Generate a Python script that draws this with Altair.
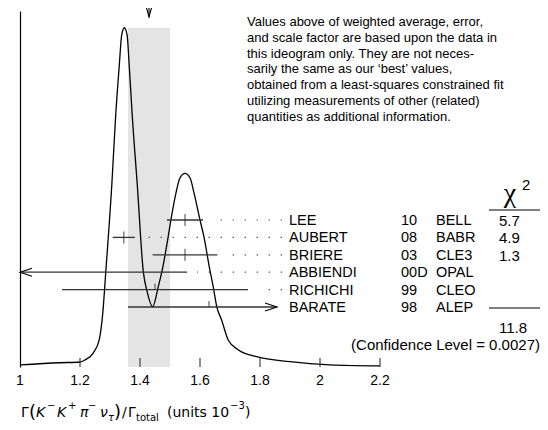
import altair as alt
import pandas as pd

# ---------------- data ----------------
names = ["LEE", "AUBERT", "BRIERE", "ABBIENDI", "RICHICHI", "BARATE"]
years = ["10", "08", "03", "00D", "99", "98"]
exps = ["BELL", "BABR", "CLE3", "OPAL", "CLEO", "ALEP"]
values = [1.55, 1.346, 1.55, 0.87, 1.45, 1.63]
errors = [0.06, 0.037, 0.108, 0.687, 0.31, 0.27]
chi2 = ["5.7", "4.9", "1.3", "", "", ""]
tick_kind = ["full", "full", "full", "none", "half", "half"]

average = 1.43
avg_err = 0.07
chi2_total = "11.8"
conf_text = "(Confidence Level = 0.0027)"

# ideogram curve
curve_x = [1.000, 1.133, 1.200, 1.217, 1.244, 1.264, 1.276, 1.286, 1.306, 1.319,
           1.331, 1.339, 1.348, 1.357, 1.364, 1.374, 1.391, 1.411, 1.424, 1.442,
           1.461, 1.474, 1.494, 1.503, 1.520, 1.533, 1.550, 1.567, 1.580, 1.600,
           1.613, 1.633, 1.644, 1.656, 1.672, 1.694, 1.728, 1.789, 1.900, 2.033, 2.200]
curve_y = [0.006, 0.012, 0.014, 0.020, 0.039, 0.076, 0.152, 0.268, 0.511, 0.708,
           0.848, 0.933, 0.953, 0.933, 0.848, 0.708, 0.511, 0.268, 0.211, 0.169,
           0.226, 0.272, 0.366, 0.413, 0.489, 0.531, 0.544, 0.531, 0.489, 0.413,
           0.366, 0.272, 0.226, 0.169, 0.132, 0.076, 0.048, 0.029, 0.015, 0.006, 0.003]

tick_values = [1.0, 1.2, 1.4, 1.6, 1.8, 2.0, 2.2]
tick_labels = ["1", "1.2", "1.4", "1.6", "1.8", "2", "2.2"]

note_lines = [
    "Values above of weighted average, error,",
    "and scale factor are based upon the data in",
    "this ideogram only.  They are not neces-",
    "sarily the same as our \u2018best\u2019 values,",
    "obtained from a least-squares constrained fit",
    "utilizing measurements of other (related)",
    "quantities as additional information.",
]

# ---------------- layout ----------------
X0, X1 = 1.0, 2.2
W, H = 360, 356
PPU = W / (X1 - X0)
ARROW_TIP = X0 + 257 / PPU
DOTS_END = X0 + 262 / PPU
DOT_GAP = 10 / PPU

SANS = "Liberation Sans"
MATH = "DejaVu Sans"

xs = alt.Scale(domain=[X0, X1], nice=False, zero=False)
ys = alt.Scale(domain=[0, 1], nice=False, zero=False)
rs = alt.Scale(type="point", domain=names, range=[209, 296], padding=0)

rows = pd.DataFrame({"name": names, "year": years, "exp": exps,
                     "v": values, "e": errors, "chi2": chi2, "kind": tick_kind})
rows["lo"] = rows.v - rows.e
rows["hi"] = rows.v + rows.e
rows["lo_c"] = rows.lo.clip(lower=X0)
rows["hi_c"] = rows.hi.clip(upper=ARROW_TIP)
rows["left_arrow"] = rows.lo < X0
rows["right_arrow"] = rows.hi > ARROW_TIP
rows["dot_start"] = rows.hi_c + DOT_GAP
rows["dot_end"] = DOTS_END

curve = pd.DataFrame({"x": curve_x, "y": curve_y})
band = pd.DataFrame({"lo": [average - avg_err], "hi": [average + avg_err],
                     "y0": [0.0], "y1": [max(curve_y)]})
avg_df = pd.DataFrame({"x": [average]})
ticks = pd.DataFrame({"x": tick_values, "label": tick_labels})
one = pd.DataFrame({"a": [0]})

Y = lambda f: alt.Y(f, scale=rs, axis=None)

band_layer = alt.Chart(band).mark_rect(color="#e4e4e4").encode(
    x=alt.X("lo:Q", scale=xs, axis=None), x2="hi:Q",
    y=alt.Y("y0:Q", scale=ys, axis=None), y2="y1:Q")

curve_layer = alt.Chart(curve).mark_line(
    color="black", strokeWidth=1.3, interpolate="monotone").encode(
    x=alt.X("x:Q", scale=xs,
            axis=alt.Axis(domain=True, ticks=False, labels=False, grid=False,
                          title=None, domainColor="black", domainWidth=1.2)),
    y=alt.Y("y:Q", scale=ys,
            axis=alt.Axis(domain=True, ticks=False, labels=False, grid=False,
                          title=None, domainColor="black", domainWidth=1.2)))

inner_ticks = alt.Chart(ticks).transform_filter("datum.x > 1.01").mark_rule(
    color="#333", strokeWidth=1.1).encode(
    x=alt.X("x:Q", scale=xs, axis=None), y=alt.value(H), y2=alt.value(H - 9))

tick_text = alt.Chart(ticks).mark_text(
    font=SANS, fontSize=14, baseline="middle", color="black").encode(
    x=alt.X("x:Q", scale=xs, axis=None), y=alt.value(370), text="label:N")

bars = alt.Chart(rows).mark_rule(color="#333", strokeWidth=1.3).encode(
    x=alt.X("lo_c:Q", scale=xs, axis=None), x2="hi_c:Q", y=Y("name:N"))

dots = alt.Chart(rows).transform_filter("!datum.right_arrow").mark_rule(
    color="#555", strokeWidth=1.2, strokeDash=[1.4, 10.6], strokeCap="butt").encode(
    x=alt.X("dot_end:Q", scale=xs, axis=None), x2="dot_start:Q", y=Y("name:N"))

full_ticks = alt.Chart(rows).transform_filter("datum.kind == 'full'").mark_tick(
    color="#333", thickness=1.3, size=12, orient="vertical").encode(
    x=alt.X("v:Q", scale=xs, axis=None), y=Y("name:N"))

half_ticks = alt.Chart(rows).transform_filter("datum.kind == 'half'").mark_tick(
    color="#333", thickness=1.3, size=6, yOffset=-3, orient="vertical").encode(
    x=alt.X("v:Q", scale=xs, axis=None), y=Y("name:N"))

left_heads = alt.Chart(rows).transform_filter("datum.left_arrow").mark_point(
    shape="M2,-0.67L0,0L2,0.67", size=144, filled=False, stroke="black",
    strokeWidth=1.1, opacity=1).encode(
    x=alt.X("lo_c:Q", scale=xs, axis=None), y=Y("name:N"))

right_heads = alt.Chart(rows).transform_filter("datum.right_arrow").mark_point(
    shape="M-2,-0.67L0,0L-2,0.67", size=144, filled=False, stroke="black",
    strokeWidth=1.1, opacity=1).encode(
    x=alt.X("hi_c:Q", scale=xs, axis=None), y=Y("name:N"))

avg_line = alt.Chart(avg_df).mark_rule(color="black", strokeWidth=1.1).encode(
    x=alt.X("x:Q", scale=xs, axis=None), y=alt.value(-3), y2=alt.value(6))
avg_head = alt.Chart(avg_df).mark_point(
    shape="M-0.55,-2L0,0L0.55,-2", size=144, filled=False, stroke="black",
    strokeWidth=1.1, opacity=1).encode(
    x=alt.X("x:Q", scale=xs, axis=None), y=alt.value(6))

def col_text(field, xpos, align="left", size=14.5):
    return alt.Chart(rows).mark_text(
        font=SANS, fontSize=size, align=align, baseline="middle", dy=1,
        color="black").encode(x=alt.value(xpos), y=Y("name:N"), text=f"{field}:N")

name_col = col_text("name", 269)
year_col = col_text("year", 381)
exp_col = col_text("exp", 416)
chi_col = col_text("chi2", 479, size=15)

def txt(s, x, y, size=14, font=SANS, style="normal", align="left",
        baseline="alphabetic", **kw):
    return alt.Chart(one).mark_text(
        text=s, font=font, fontSize=size, fontStyle=style, align=align,
        baseline=baseline, color="black", **kw).encode(
        x=alt.value(x), y=alt.value(y))

def hline(x1, x2, y):
    return alt.Chart(one).mark_rule(color="black", strokeWidth=1.1).encode(
        x=alt.value(x1), x2=alt.value(x2), y=alt.value(y))

note = txt(note_lines, 227, 15, size=13, lineHeight=15.8)

chi_head = txt("\u03c7", 490, 191, size=28, font="Liberation Serif", align="center")
chi_sup = txt("2", 502, 179, size=15)
line_top = hline(469, 520, 199)
line_bot = hline(469, 520, 297)
total_txt = txt(chi2_total, 479, 317, size=15, baseline="middle")
conf = txt(conf_text, 520, 334, size=15, baseline="middle", align="right")

# x-axis title built from pieces
BL, SUP, SUB, PAR = 406, 398, 410, 407
title_parts = [
    txt("\u0393", 1, BL, font=MATH),
    txt("(", 9, PAR, size=18, font=MATH),
    txt("K", 16, BL, font=MATH, style="italic"),
    txt("\u2212", 27, SUP, size=10, font=MATH),
    txt("K", 37, BL, font=MATH, style="italic"),
    txt("+", 48, SUP, size=10, font=MATH),
    txt("\u03c0", 60, BL, font=MATH, style="italic"),
    txt("\u2212", 68, SUP, size=10, font=MATH),
    txt("\u03bd", 80, BL, font=MATH, style="italic"),
    txt("\u03c4", 88, SUB, size=10, font=MATH, style="italic"),
    txt(")", 94, PAR, size=18, font=MATH),
    txt("/", 102, BL, font=MATH),
    txt("\u0393", 108, BL, font=MATH),
    txt("total", 116, SUB, size=10, font=MATH),
    txt("(units 10", 147, BL, font=MATH),
    txt("\u22123", 210, SUP, size=10, font=MATH),
    txt(")", 225, BL, font=MATH),
]

chart = alt.layer(
    band_layer, curve_layer, inner_ticks, tick_text,
    bars, dots, full_ticks, half_ticks, left_heads, right_heads,
    avg_line, avg_head,
    name_col, year_col, exp_col, chi_col,
    note, chi_head, chi_sup, line_top, line_bot, total_txt, conf,
    *title_parts,
).resolve_scale(y="independent").properties(
    width=W, height=H,
    autosize=alt.AutoSizeParams(type="none"),
    padding={"left": 12, "top": 3, "right": 160, "bottom": 55},
    background="white",
).configure_view(stroke=None)

chart.save("out.html", embed_options={"renderer": "svg", "actions": False})
